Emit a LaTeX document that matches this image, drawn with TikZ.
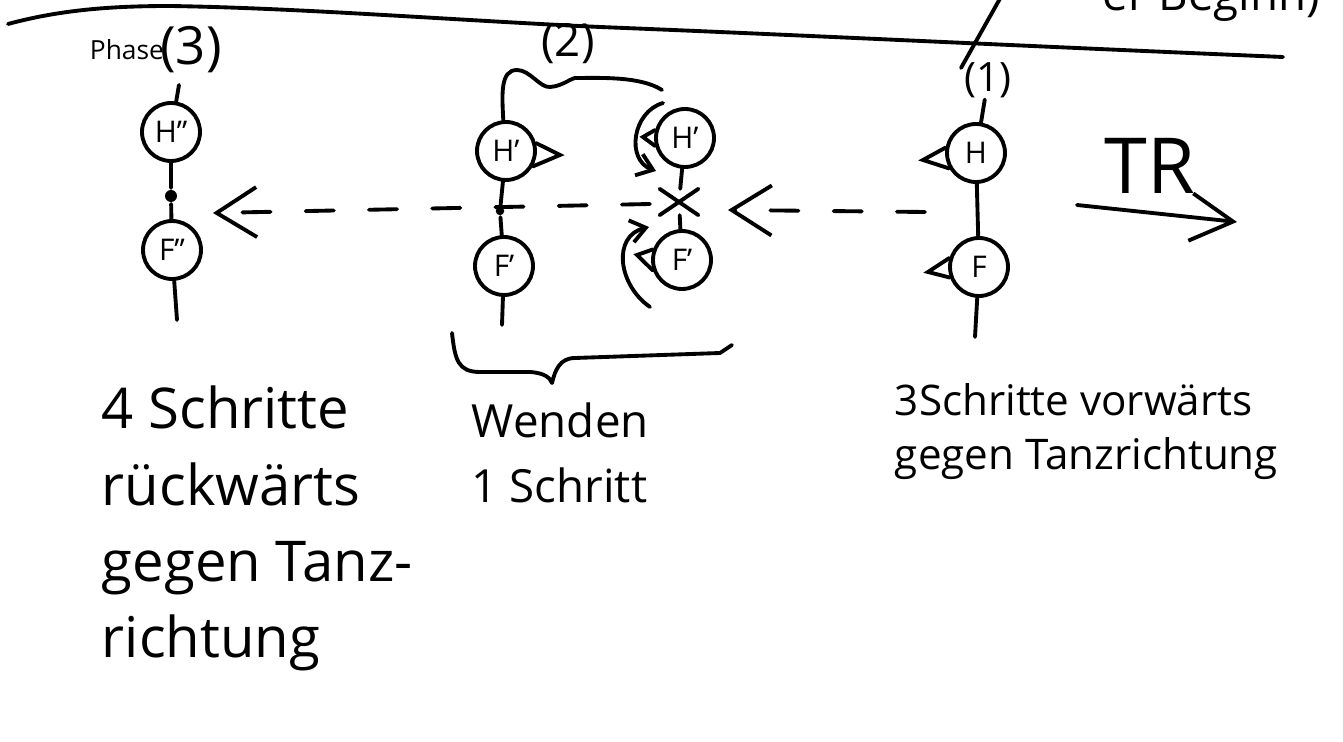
\documentclass[tikz,border=0pt]{standalone}
\usepackage{fontspec}
\setmainfont{Open Sans}
\usetikzlibrary{arrows.meta,shapes.misc}
\begin{document}
\begin{tikzpicture}[x=0.02cm,y=-0.02cm, line width=2.2pt, line cap=round, line join=round,
  pers/.style={draw,circle,minimum size=1.16cm,inner sep=0pt,font=\fontsize{17}{20}\selectfont},
  dotnode/.style={circle,fill,inner sep=0pt,minimum size=#1},
  txt/.style={inner sep=0pt,align=left},
  dsh/.style={dash pattern=on 16pt off 20pt, -{Straight Barb[length=0.8cm,width=1.0cm,line width=2.2pt]}},
  turn/.style={-{Straight Barb[length=0.3cm,width=0.45cm,line width=2.2pt]}},
  tri/.style={line join=miter}
]
\useasboundingbox (0,0) rectangle (1343,742);

% top rule and cut-off heading
\draw (8,24) .. controls (60,10) and (110,6) .. (170,6) .. controls (300,8) and (450,20) .. (600,27) .. controls (800,35) and (1000,45) .. (1283,57);
\node[txt,anchor=base east,font=\fontsize{26}{30}\selectfont] (head) at (1322,11) {er Beginn)};
\coordinate (s1) at (1002,-5);
\coordinate (s2) at (961,68);
\draw (s1) -- (s2);

% ---------- Phase 3 (left) ----------
\node[txt,anchor=base west,font=\fontsize{15}{20}\selectfont] (ph) at (88,60) {Phase};
\node[txt,font=\fontsize{30}{34}\selectfont] (ph3) at (191,50) {(3)};
\coordinate (p3t) at (179,85);
\node[pers] (H3) at (171,132) {H''};
\node[dotnode=0.24cm] (d3) at (171,196) {};
\node[pers] (F3) at (172,250) {F''};
\coordinate (F3t) at (177,320);
\draw (p3t) -- (H3);
\draw (H3) -- (d3) -- (F3) -- (F3t);

% ---------- Phase 2 (middle) ----------
\node[txt,font=\fontsize{26}{30}\selectfont] (two) at (568,44) {(2)};
\coordinate (b2) at (575,78);
\node[pers] (H2a) at (506,151) {H'};
\node[dotnode=0.17cm] (d2) at (500,211) {};
\node[pers] (F2a) at (504,266) {F'};
\coordinate (F2at) at (502,325);
\draw (H2a) -- (d2) -- (F2a) -- (F2at);
\coordinate (t2a) at (560,155);
\draw[tri] (H2a.15) -- (t2a) -- (H2a.-30);
\coordinate (b2e) at (662,90);
\draw (H2a.95) .. controls (502,95) and (500,70) .. (517,70) .. controls (530,70) and (540,88) .. (550,87) .. controls (562,86) and (568,80) .. (b2) .. controls (600,78) and (640,76) .. (b2e);

\node[pers] (H2b) at (685,138) {H'};
\node[cross out,draw,minimum width=0.7cm,minimum height=0.45cm,inner sep=0pt] (x2) at (679,202) {};
\node[pers] (F2b) at (682,260) {F'};
\draw (H2b) -- (x2) -- (F2b);
\coordinate (t2b) at (643,137);
\draw[tri] (H2b.165) -- (t2b) -- (H2b.195);
\coordinate (t2c) at (637,255);
\draw[tri] (F2b.160) -- (t2c) -- (F2b.200);
\coordinate (r1a) at (663,103);
\coordinate (r1b) at (656,171);
\draw[turn] (r1a) .. controls (632,112) and (626,160) .. (r1b);
\coordinate (r2a) at (650,307);
\coordinate (r2b) at (649,227);
\draw[turn] (r2a) .. controls (618,285) and (612,236) .. (r2b);

% brace under phase 2
\coordinate (br1) at (452,333);
\coordinate (br2) at (732,345);
\draw (br1) .. controls (455,360) and (458,372) .. (480,372) -- (530,372) .. controls (545,373) and (550,378) .. (552,383) .. controls (555,370) and (560,358) .. (575,358) -- (720,353) -- (br2);

% ---------- Phase 1 (right) ----------
\node[txt,font=\fontsize{23}{26}\selectfont] (one) at (988,80) {(1)};
\node[pers] (H1) at (976,153) {H};
\node[pers] (F1) at (979,267) {F};
\coordinate (F1t) at (975,337);
\draw (one) -- (H1);
\draw (H1) -- (F1) -- (F1t);
\coordinate (t1a) at (923,160);
\draw[tri] (H1.170) -- (t1a) -- (H1.210);
\coordinate (t1b) at (928,272);
\draw[tri] (F1.163) -- (t1b) -- (F1.200);

% TR
\node[txt,font=\fontsize{44}{50}\selectfont] (tr) at (1150,166) {TR};
\coordinate (tra) at (1077,205);
\coordinate (trb) at (1237,222);
\draw[-{Straight Barb[length=0.85cm,width=0.95cm,line width=2.2pt]}] (tra) -- (trb);

% dashed arrows
\coordinate (da1) at (925,212);
\coordinate (da2) at (728,210);
\draw[dsh] (da1) -- (da2);
\coordinate (db1) at (650,204);
\coordinate (db2) at (213,213);
\draw[dsh] (db1) -- (db2);

% captions (base anchor = baseline of the last line)
\node[txt,anchor=base west,font=\fontsize{32}{43.5}\selectfont] (cap3) at (100,658) {4 Schritte\\rückwärts\\gegen Tanz-\\richtung};
\node[txt,anchor=base west,font=\fontsize{26}{37}\selectfont] (cap2) at (470,503) {Wenden\\1 Schritt};
\node[txt,anchor=base west,font=\fontsize{24}{31}\selectfont] (cap1) at (893,470) {3Schritte vorwärts\\gegen Tanzrichtung};
\end{tikzpicture}
\end{document}
